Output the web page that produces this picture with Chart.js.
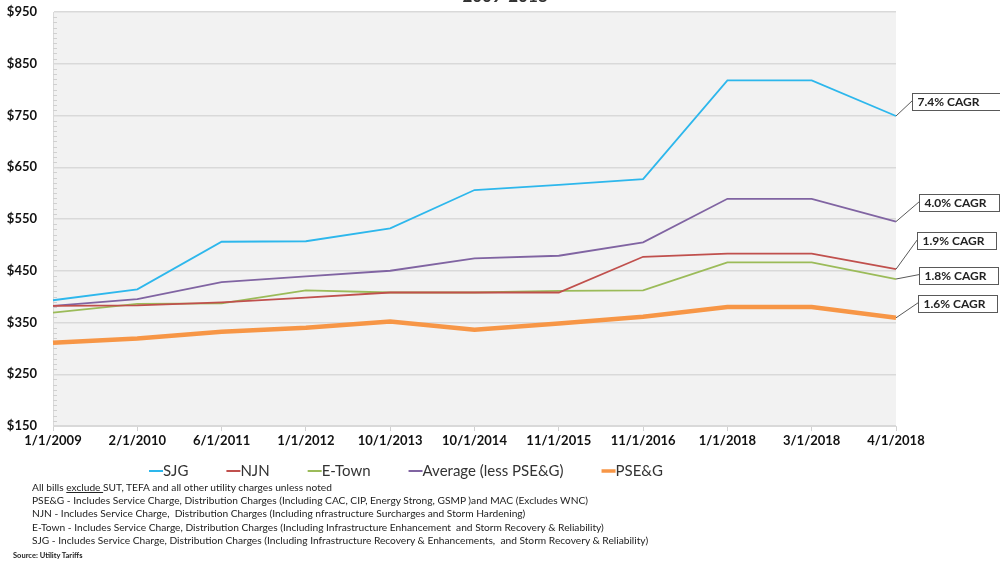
<!DOCTYPE html>
<html>
<head>
<meta charset="utf-8">
<script src="https://cdn.jsdelivr.net/npm/chart.js@4.4.1/dist/chart.umd.min.js"></script>
<style>
  html, body { margin: 0; padding: 0; background: #fff; }
  #wrap { position: relative; width: 1000px; height: 564px; overflow: hidden; font-family: Lato, "Open Sans", sans-serif; }
  #chart { position: absolute; left: 0; top: 0; }
  .title { position: absolute; top: -15px; left: 0; width: 1010px; text-align: center; font-weight: bold; font-size: 17px; color: #333; }
  .notes { position: absolute; left: 32px; top: 481px; font-size: 10.2px; line-height: 13.2px; color: #222; white-space: nowrap; }
  .source { position: absolute; left: 13px; top: 551px; font-size: 7.5px; font-weight: bold; color: #222; }
</style>
</head>
<body>
<div id="wrap">
  <canvas id="chart" width="1000" height="564"></canvas>
  <div class="title">2009-2018</div>
  <div class="notes">
    All bills <u>exclude </u>SUT, TEFA and all other utility charges unless noted<br>
    PSE&amp;G - Includes Service Charge, Distribution Charges (Including CAC, CIP, Energy Strong, GSMP )and MAC (Excludes WNC)<br>
    NJN - Includes Service Charge,&nbsp; Distribution Charges (Including nfrastructure Surcharges and Storm Hardening)<br>
    E-Town - Includes Service Charge, Distribution Charges (Including Infrastructure Enhancement&nbsp; and Storm Recovery &amp; Reliability)<br>
    SJG - Includes Service Charge, Distribution Charges (Including Infrastructure Recovery &amp; Enhancements,&nbsp; and Storm Recovery &amp; Reliability)
  </div>
  <div class="source">Source: Utility Tariffs</div>
</div>
<script>
const categories = ['1/1/2009', '2/1/2010', '6/1/2011', '1/1/2012', '10/1/2013', '10/1/2014',
    '11/1/2015', '11/1/2016', '1/1/2018', '3/1/2018', '4/1/2018'];

const sjg = [393, 414, 506, 507, 532, 606, 616, 627, 818, 818, 749];
const njn = [382, 383, 389, 398, 408, 408, 408, 477, 483, 483, 453];
const eTown = [369, 386, 387, 412, 408, 408, 411, 412, 466, 466, 434];
const averageLessPseg = [382, 395, 428, 439, 450, 474, 479, 505, 589, 589, 545];
const pseg = [311, 319, 332, 340, 352, 336, 348, 361, 380, 380, 359];

const seriesNames = ['SJG', 'NJN', 'E-Town', 'Average (less PSE&G)', 'PSE&G'];
const cagrLabels = ['7.4% CAGR', '1.9% CAGR', '1.8% CAGR', '4.0% CAGR', '1.6% CAGR'];

const yMin = 150, yMax = 950, yStep = 100;

const colors = ['#2db7ec', '#c0504d', '#9bbb59', '#8064a2', '#f79646'];
const widths = [1.8, 1.8, 1.8, 1.8, 4.5];
// box offsets for the CAGR callouts, relative to the last point
const callouts = [
    { dx: 16, dy: -23, w: 100 },
    { dx: 21, dy: -37, w: 79 },
    { dx: 23, dy: -12, w: 79 },
    { dx: 23, dy: -28, w: 80 },
    { dx: 22, dy: -23, w: 79 },
];

const FONT = 'Lato, "Open Sans", sans-serif';

// grey plot background + minor ticks on the value axis
const plotBackground = {
    id: 'plotBackground',
    beforeDraw(chart) {
        const { ctx, chartArea: a } = chart;
        ctx.save();
        ctx.fillStyle = '#f2f2f2';
        ctx.fillRect(a.left, a.top, a.right - a.left, a.bottom - a.top);
        ctx.restore();
    },
    beforeDatasetsDraw(chart) {
        const { ctx, chartArea: a, scales: { y } } = chart;
        ctx.save();
        ctx.strokeStyle = '#d0d0d0';
        ctx.lineWidth = 1;
        for (let v = yMin + 10; v < yMax; v += 10) {
            if (v % 100 === 50) continue;
            const py = Math.round(y.getPixelForValue(v)) + 0.5;
            ctx.beginPath();
            ctx.moveTo(a.left, py);
            ctx.lineTo(a.left + 4, py);
            ctx.stroke();
        }
        ctx.restore();
    }
};

// CAGR boxes with leader lines
const cagrCallouts = {
    id: 'cagrCallouts',
    afterDatasetsDraw(chart) {
        const { ctx } = chart;
        ctx.save();
        chart.data.datasets.forEach((ds, i) => {
            const pts = chart.getDatasetMeta(i).data;
            const p = pts[pts.length - 1];
            const c = callouts[i];
            const bx = Math.round(p.x + c.dx) + 0.5;
            const by = Math.round(p.y + c.dy) + 0.5;
            const h = 17;
            ctx.strokeStyle = '#595959';
            ctx.lineWidth = 1;
            ctx.beginPath();
            ctx.moveTo(p.x, p.y);
            ctx.lineTo(bx, by + 7);
            ctx.stroke();
            ctx.fillStyle = '#fff';
            ctx.fillRect(bx, by, c.w, h);
            ctx.strokeRect(bx, by, c.w, h);
            ctx.fillStyle = '#222';
            ctx.font = 'bold 12px ' + FONT;
            ctx.textBaseline = 'middle';
            ctx.textAlign = 'left';
            ctx.fillText(ds.cagr, bx + 5, by + h / 2 + 0.5);
        });
        ctx.restore();
    }
};

// legend drawn like the spreadsheet one: short line then text, centred under the plot
const lineLegend = {
    id: 'lineLegend',
    afterDraw(chart) {
        const { ctx } = chart;
        const lineLen = 14, gap = 38, yMid = 471;
        ctx.save();
        ctx.font = '15px ' + FONT;
        const items = chart.data.datasets.map(ds => ({ ds, tw: ctx.measureText(ds.label).width }));
        const total = items.reduce((s, it) => s + lineLen + it.tw, 0) + gap * (items.length - 1);
        let x = 406 - total / 2;
        items.forEach(({ ds, tw }) => {
            ctx.strokeStyle = ds.borderColor;
            ctx.lineWidth = ds.borderWidth > 3 ? 3.5 : 2;
            ctx.beginPath();
            ctx.moveTo(x, yMid);
            ctx.lineTo(x + lineLen, yMid);
            ctx.stroke();
            ctx.fillStyle = '#333';
            ctx.textBaseline = 'middle';
            ctx.fillText(ds.label, x + lineLen, yMid);
            x += lineLen + tw + gap;
        });
        ctx.restore();
    }
};

const seriesData = [sjg, njn, eTown, averageLessPseg, pseg];

new Chart(document.getElementById('chart'), {
    type: 'line',
    data: {
        labels: categories,
        datasets: seriesData.map((d, i) => ({
            label: seriesNames[i],
            data: d,
            cagr: cagrLabels[i],
            borderColor: colors[i],
            backgroundColor: colors[i],
            borderWidth: widths[i],
            pointRadius: 0,
            tension: 0,
            order: i === 4 ? -1 : i,
        }))
    },
    options: {
        responsive: false,
        animation: false,
        layout: { padding: { left: 0, top: 12, right: 104, bottom: 108 } },
        plugins: {
            legend: { display: false },
            tooltip: { enabled: false },
        },
        scales: {
            x: {
                offset: false,
                grid: { drawOnChartArea: false, drawTicks: true, tickLength: 5, color: '#d0d0d0' },
                border: { color: '#d9d9d9', width: 1 },
                ticks: { color: '#111', font: { family: FONT, size: 13, weight: 'bold' }, maxRotation: 0, autoSkip: false, padding: 2 },
                afterFit: (s) => { s.height = 30; s.paddingLeft = 0; s.paddingRight = 0; }
            },
            y: {
                min: yMin,
                max: yMax,
                ticks: {
                    stepSize: yStep,
                    color: '#111',
                    padding: 16,
                    font: { family: FONT, size: 13, weight: 'bold' },
                    callback: (v) => '$' + v
                },
                grid: { color: '#d9d9d9', lineWidth: 1.5, drawTicks: false },
                border: { color: '#d9d9d9', width: 1 },
                afterFit: (s) => { s.width = 53; s.paddingTop = 0; s.paddingBottom = 0; }
            }
        }
    },
    plugins: [plotBackground, cagrCallouts, lineLegend]
});
</script>
</body>
</html>
